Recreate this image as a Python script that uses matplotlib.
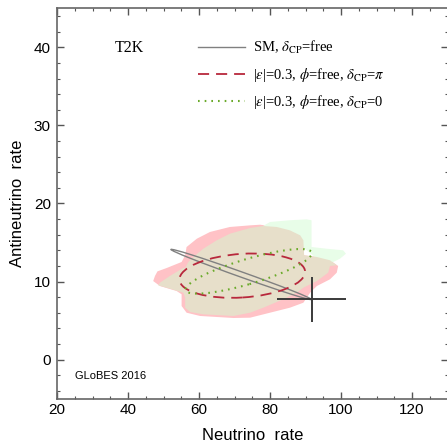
import numpy as np
import matplotlib
matplotlib.use("Agg")
import matplotlib.pyplot as plt
from matplotlib.patches import Ellipse, Polygon
from matplotlib.ticker import MultipleLocator

plt.rcParams['font.family'] = ['Liberation Sans', 'DejaVu Sans']
plt.rcParams['mathtext.fontset'] = 'stix'
plt.rcParams['lines.scale_dashes'] = False

# allowed regions, data coordinates
pink_x = [50.9, 52.8, 55.1, 56.1, 56.5, 59.4, 63.1, 68.7, 74.4, 77.2, 81.9, 85.6, 89.4, 89.6,
          93.2, 96.9, 99.2, 98.8, 96.9, 93.2, 91.3, 89.4, 85.6, 80.0, 74.4, 69.7, 60.3, 56.5,
          55.1, 55.1, 53.7, 49.0, 47.1, 47.6, 48.3]
pink_y = [11.73, 12.08, 12.5, 13.36, 14.42, 15.49, 16.35, 16.99, 17.2, 17.28, 17.0, 16.56, 15.28, 13.36,
          13.14, 12.72, 11.99, 11.13, 10.28, 9.42, 8.56, 7.28, 6.64, 6.0, 5.36, 5.32, 5.58, 6.0,
          6.86, 8.36, 8.78, 9.42, 10.06, 10.71, 11.3]

green_x = [78.0, 80.0, 85.6, 90.3, 91.7, 91.7, 96.0, 100.6, 101.4, 99.7, 97.8, 94.1, 88.5, 82.8]
green_y = [17.1, 17.63, 17.85, 17.97, 17.85, 14.42, 14.2, 14.0, 13.56, 12.92, 12.5, 12.6, 14.7, 16.3]

tan_x = [56.1, 57.0, 58.4, 61.2, 65.0, 68.7, 74.4, 78.1, 81.9, 85.6, 88.5, 89.4, 89.6, 93.2,
         96.9, 98.8, 96.9, 96.4, 93.2, 89.4, 87.5, 83.7, 78.1, 74.4, 69.7, 61.2, 57.5, 56.1,
         56.1, 55.6, 51.8, 48.5, 49.0, 51.8, 55.6]
tan_y = [11.73, 12.5, 13.14, 14.2, 15.28, 16.13, 16.86, 17.12, 16.99, 16.56, 15.92, 15.28, 13.36, 13.14,
         12.72, 12.08, 11.99, 11.13, 10.06, 9.21, 8.56, 7.72, 6.64, 6.0, 5.58, 5.79, 6.09, 6.64,
         7.92, 8.56, 9.08, 9.51, 9.85, 10.71, 11.75]

# contours: center, full width, full height, angle (deg)
sm_curve = (71.9, 10.9, 40.1, 0.7, -9.2)
eps_pi = (72.2, 10.75, 35.4, 5.6, 1.6)
eps_zero = (74.0, 11.3, 35.9, 3.3, 7.5)

# best fit point with errors
best_nu, best_anu = 91.7, 7.7
err_nu, err_anu = 9.8, 2.9

fig = plt.figure(figsize=(4.47, 4.48), dpi=100)
ax = fig.add_axes([57 / 447, 49.5 / 448, 390.5 / 447, 390 / 448])

ax.add_patch(Polygon(np.column_stack([pink_x, pink_y]), closed=True, fc='#ffc2c6', ec='none'))
ax.add_patch(Polygon(np.column_stack([green_x, green_y]), closed=True, fc='#e8fde8', ec='none'))
ax.add_patch(Polygon(np.column_stack([tan_x, tan_y]), closed=True, fc='#e7dfca', ec='none'))

e1 = Ellipse(sm_curve[:2], sm_curve[2], sm_curve[3], angle=sm_curve[4],
             fill=False, ec='#808080', lw=1.0)
e2 = Ellipse(eps_pi[:2], eps_pi[2], eps_pi[3], angle=eps_pi[4],
             fill=False, ec='#b8283c', lw=1.3, linestyle=(0, (8, 5)))
e3 = Ellipse(eps_zero[:2], eps_zero[2], eps_zero[3], angle=eps_zero[4],
             fill=False, ec='#6aaa2a', lw=1.5, linestyle=(0, (1.2, 3.6)))
for e in (e1, e2, e3):
    ax.add_patch(e)

ax.errorbar(best_nu, best_anu, xerr=err_nu, yerr=err_anu, fmt='none',
            ecolor='#3a3a3a', elinewidth=1.4, capsize=0)

# legend handles
h1, = ax.plot([], [], color='#808080', lw=1.0)
h2, = ax.plot([], [], color='#b8283c', lw=1.3, linestyle=(0, (8, 5)))
h3, = ax.plot([], [], color='#6aaa2a', lw=1.5, linestyle=(0, (1.2, 3.6)))
labels = [r'SM, $\delta_{\rm CP}$=free',
          r'|$\varepsilon$|=0.3, $\phi$=free, $\delta_{\rm CP}$=$\pi$',
          r'|$\varepsilon$|=0.3, $\phi$=free, $\delta_{\rm CP}$=0']
ax.legend([h1, h2, h3], labels, loc='upper left', bbox_to_anchor=(0.362, 0.921),
          frameon=False, handlelength=3.2, handletextpad=0.55, labelspacing=0.64,
          borderpad=0, borderaxespad=0,
          prop={'family': 'Liberation Serif', 'size': 10.5})

ax.text(40.3, 40, 'T2K', family='Liberation Serif', fontsize=11.5, va='center', ha='center')
ax.text(25, -2.1, 'GLoBES 2016', fontsize=8, va='center', ha='left')

ax.set_xlim(20, 130)
ax.set_ylim(-5, 45)
ax.xaxis.set_major_locator(MultipleLocator(20))
ax.xaxis.set_minor_locator(MultipleLocator(5))
ax.yaxis.set_major_locator(MultipleLocator(10))
ax.yaxis.set_minor_locator(MultipleLocator(2))
ax.tick_params(which='both', direction='in', top=True, right=True, color='#555555')
ax.tick_params(which='major', length=5, width=1, labelsize=11)
ax.tick_params(which='minor', length=2.5, width=0.8)
ax.tick_params(axis='x', pad=3)
ax.tick_params(axis='y', pad=4.5)
for s in ax.spines.values():
    s.set_color('#666666')
    s.set_linewidth(1.2)

ax.set_xlabel('Neutrino  rate', fontsize=12, labelpad=8)
ax.set_ylabel('Antineutrino  rate', fontsize=12, labelpad=6)

fig.savefig('out.png', dpi=100)
